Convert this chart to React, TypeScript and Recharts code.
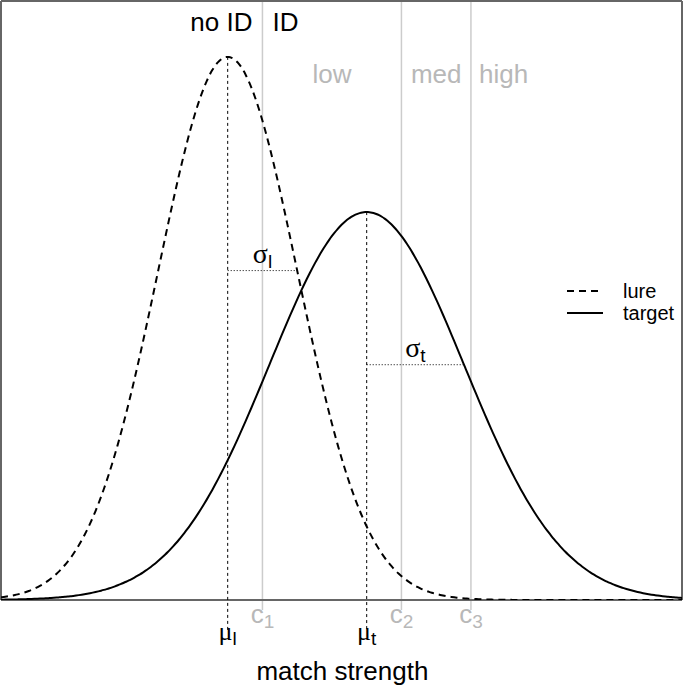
import React from 'react';
import {
  ComposedChart,
  Line,
  XAxis,
  YAxis,
  ReferenceLine,
  ReferenceDot,
  Legend,
} from 'recharts';

// ---- values ----
const seriesNames = ['lure', 'target'];
const means = [0, 2];
const sds = [1, 1.4];
const meanSubs = ['l', 't'];
const criteria = [0.5, 2.5, 3.5];
const criterionSubs = ['1', '2', '3'];
const confidenceLabels = ['low', 'med', 'high'];
const confidenceX = [1.5, 3.0, 3.97];
const decisionLabels = ['no ID', 'ID'];
const axisTitle = 'match strength';
const xDomain = [-3.262, 6.537];
const yDomain = [0, 0.44];

const density = (x: number, m: number, s: number) =>
  Math.exp(-0.5 * ((x - m) / s) ** 2) / (s * Math.sqrt(2 * Math.PI));

const xs: number[] = [];
for (let x = xDomain[0]; x <= xDomain[1] + 1e-9; x += 0.04) xs.push(+x.toFixed(4));
xs.push(xDomain[1]);

const data = xs.map((x) => ({
  x,
  lure: density(x, means[0], sds[0]),
  target: density(x, means[1], sds[1]),
}));

const SANS = '"Liberation Sans", Arial, Helvetica, sans-serif';
const SERIF = '"Liberation Serif", "Times New Roman", serif';
const GRAY_TEXT = '#b8b8b8';
const GRAY_LINE = '#cccccc';
const BOX = '#666666';

const LegendContent = () => (
  <div style={{ fontFamily: SANS, fontSize: 20, color: '#000' }}>
    {seriesNames.map((n, i) => (
      <div key={n} style={{ display: 'flex', alignItems: 'center', height: 22 }}>
        <svg width={56} height={22} style={{ display: 'block' }}>
          <line
            x1={0}
            x2={36}
            y1={11}
            y2={11}
            stroke="#000"
            strokeWidth={2}
            strokeDasharray={i === 0 ? '7 5' : undefined}
          />
        </svg>
        <span style={{ lineHeight: '22px' }}>{n}</span>
      </div>
    ))}
  </div>
);

const textShape =
  (content: React.ReactNode, opts: { dx?: number; dy?: number; anchor?: string; fill?: string; size?: number; family?: string }) =>
  (p: any) =>
    (
      <text
        x={p.cx + (opts.dx || 0)}
        y={p.cy + (opts.dy || 0)}
        textAnchor={opts.anchor || 'middle'}
        fill={opts.fill || '#000'}
        fontSize={opts.size || 26}
        fontFamily={opts.family || SANS}
      >
        {content}
      </text>
    );

const boxEdges = [
  [{ x: xDomain[0], y: yDomain[0] }, { x: xDomain[1], y: yDomain[0] }],
  [{ x: xDomain[0], y: yDomain[1] }, { x: xDomain[1], y: yDomain[1] }],
  [{ x: xDomain[0], y: yDomain[0] }, { x: xDomain[0], y: yDomain[1] }],
  [{ x: xDomain[1], y: yDomain[0] }, { x: xDomain[1], y: yDomain[1] }],
];

export default function App() {
  return (
    <div style={{ position: 'absolute', left: 0, top: 0, width: 685, height: 689, overflow: 'hidden' }}>
      <ComposedChart
        width={685}
        height={689}
        data={data}
        margin={{ top: 1, right: 3, left: 1, bottom: 89 }}
      >
        <XAxis dataKey="x" type="number" domain={xDomain} hide allowDataOverflow />
        <YAxis type="number" domain={yDomain} hide allowDataOverflow />

        {criteria.map((c) => (
          <ReferenceLine
            key={'c' + c}
            segment={[
              { x: c, y: yDomain[1] },
              { x: c, y: -0.0073 },
            ]}
            stroke={GRAY_LINE}
            strokeWidth={1.5}
            ifOverflow="visible"
          />
        ))}

        {boxEdges.map((seg, i) => (
          <ReferenceLine
            key={'b' + i}
            segment={seg}
            stroke={BOX}
            strokeWidth={2}
            ifOverflow="visible"
          />
        ))}

        {means.map((m, i) => (
          <ReferenceLine
            key={'m' + i}
            segment={[
              { x: m, y: density(m, m, sds[i]) },
              { x: m, y: -0.022 },
            ]}
            stroke="#000"
            strokeWidth={1}
            strokeDasharray="3 3"
            ifOverflow="visible"
          />
        ))}

        {means.map((m, i) => (
          <ReferenceLine
            key={'s' + i}
            segment={[
              { x: m, y: density(m + sds[i], m, sds[i]) },
              { x: m + sds[i], y: density(m + sds[i], m, sds[i]) },
            ]}
            stroke="#000"
            strokeWidth={1}
            strokeDasharray="1 2"
            ifOverflow="visible"
          />
        ))}

        <Line
          dataKey="lure"
          name={seriesNames[0]}
          type="monotone"
          stroke="#000"
          strokeWidth={2}
          strokeDasharray="7 5"
          dot={false}
          isAnimationActive={false}
        />
        <Line
          dataKey="target"
          name={seriesNames[1]}
          type="monotone"
          stroke="#000"
          strokeWidth={2}
          dot={false}
          isAnimationActive={false}
        />

        {means.map((m, i) => (
          <ReferenceDot
            key={'sl' + i}
            x={m + sds[i] / 2}
            y={density(m + sds[i], m, sds[i])}
            r={1}
            ifOverflow="visible"
            shape={textShape(
              <>
                <tspan fontFamily={SERIF} fontSize={28}>σ</tspan>
                <tspan fontSize={19} dy={5}>{meanSubs[i]}</tspan>
              </>,
              { dy: -8 }
            )}
          />
        ))}

        {means.map((m, i) => (
          <ReferenceDot
            key={'ml' + i}
            x={m}
            y={0}
            r={1}
            ifOverflow="visible"
            shape={textShape(
              <>
                <tspan fontFamily={SERIF} fontSize={26}>μ</tspan>
                <tspan fontSize={19} dy={5}>{meanSubs[i]}</tspan>
              </>,
              { dy: 40 }
            )}
          />
        ))}

        {criteria.map((c, i) => (
          <ReferenceDot
            key={'cl' + i}
            x={c}
            y={0}
            r={1}
            ifOverflow="visible"
            shape={textShape(
              <>
                <tspan>c</tspan>
                <tspan fontSize={19} dy={5}>{criterionSubs[i]}</tspan>
              </>,
              { dy: 23, fill: GRAY_TEXT }
            )}
          />
        ))}

        {confidenceLabels.map((t, i) => (
          <ReferenceDot
            key={'conf' + i}
            x={confidenceX[i]}
            y={yDomain[1]}
            r={1}
            ifOverflow="visible"
            shape={textShape(t, { dy: 82, fill: GRAY_TEXT })}
          />
        ))}

        <ReferenceDot
          x={criteria[0]}
          y={yDomain[1]}
          r={1}
          ifOverflow="visible"
          shape={textShape(decisionLabels[0], { dx: -10, dy: 30, anchor: 'end' })}
        />
        <ReferenceDot
          x={criteria[0]}
          y={yDomain[1]}
          r={1}
          ifOverflow="visible"
          shape={textShape(decisionLabels[1], { dx: 10, dy: 30, anchor: 'start' })}
        />

        <ReferenceDot
          x={1.65}
          y={0}
          r={1}
          ifOverflow="visible"
          shape={textShape(axisTitle, { dy: 80 })}
        />

        <Legend
          layout="vertical"
          verticalAlign="middle"
          align="center"
          content={LegendContent}
          wrapperStyle={{ position: 'absolute', left: 567, top: 280, width: 112, right: 'auto', bottom: 'auto', margin: 0 }}
        />
      </ComposedChart>
    </div>
  );
}
